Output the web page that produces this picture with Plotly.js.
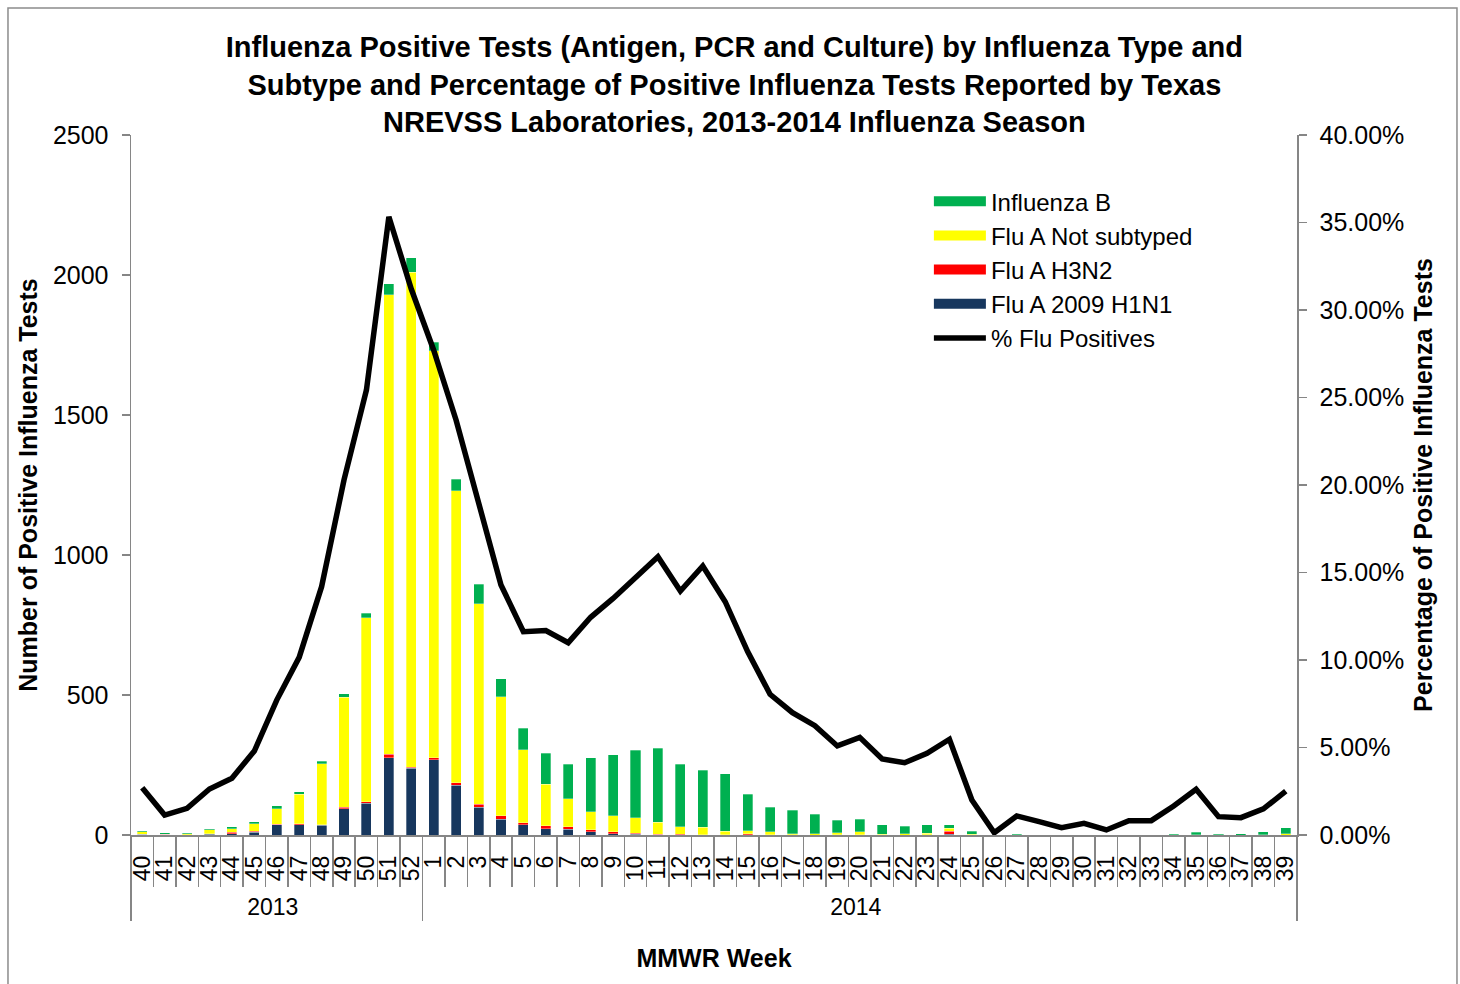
<!DOCTYPE html>
<html>
<head>
<meta charset="utf-8">
<script src="https://cdn.plot.ly/plotly-3.0.1.min.js"></script>
<style>html,body{margin:0;padding:0;background:#fff;}</style>
</head>
<body>
<div id="chart" style="width:1460px;height:984px;"></div>
<script>
// ---- data ----
const weeks2013 = ['40','41','42','43','44','45','46','47','48','49','50','51','52'];
const weeks2014 = ['1','2','3','4','5','6','7','8','9','10','11','12','13','14','15','16','17','18','19','20',
  '21','22','23','24','25','26','27','28','29','30','31','32','33','34','35','36','37','38','39'];
const seasonYears = ['2013','2014'];

const fluA_H1N1 = [2,1,1,3,5,9,36,37,35,94,113,276,239,
  269,178,99,56,37,23,21,12,5,2,1,0,0,0,1,0,0,0,0,0,0,0,0,2,0,0,0,0,0,0,0,0,0,0,0,0,0,0,0];
const fluA_H3N2 = [1,1,0,1,4,5,2,4,2,6,6,13,3,
  7,9,10,12,7,10,9,7,7,4,2,2,1,1,4,1,1,0,1,1,0,0,1,12,0,0,0,0,0,0,0,0,0,0,0,0,0,0,0];
const fluA_NotSubtyped = [8,1,3,14,14,26,55,105,218,392,657,1641,1767,
  1453,1043,717,425,261,148,100,64,56,56,42,28,27,12,10,11,4,4,7,10,3,4,6,11,2,0,0,0,0,0,0,0,0,0,1,0,0,1,4];
const influenzaB = [4,5,4,4,6,7,12,8,8,12,16,38,52,
  30,41,69,65,76,111,122,193,218,240,265,222,203,205,131,88,83,70,44,46,33,28,29,11,11,0,2,1,0,1,0,0,0,3,9,2,4,11,22];
const pctFluPositive = [2.70,1.14,1.52,2.63,3.24,4.80,7.71,10.15,14.19,20.29,25.43,35.33,31.20,
  27.70,23.70,18.95,14.29,11.62,11.68,10.99,12.44,13.52,14.76,15.90,13.94,15.37,13.33,10.48,8.04,6.99,6.25,
  5.09,5.58,4.34,4.13,4.67,5.47,2.00,0.13,1.09,0.76,0.42,0.67,0.29,0.82,0.82,1.66,2.61,1.05,0.99,1.49,2.51];

// ---- build axes arrays ----
const weekLabels = weeks2013.concat(weeks2014);
const yearLabels = weeks2013.map(() => seasonYears[0]).concat(weeks2014.map(() => seasonYears[1]));
const xMulti = [yearLabels, weekLabels];

const C = {
  B: '#00B050', notsub: '#FFFF00', h3: '#FF0000', h1: '#17375E', line: '#000000', axis: '#868686'
};
const FONT = '"Liberation Sans", Arial, sans-serif';

function barTrace(name, vals, color) {
  return {type: 'bar', name: name, x: xMulti, y: vals, xaxis: 'x', yaxis: 'y',
    marker: {color: color, line: {color: 'rgba(255,255,255,0.5)', width: 0.6}},
    showlegend: false, hoverinfo: 'y+name'};
}
function legendTrace(name, color, width) {
  return {type: 'scatter', mode: 'lines', name: name, x: [null], y: [null], xaxis: 'x2', yaxis: 'y2',
    line: {color: color, width: width}, showlegend: true, hoverinfo: 'skip'};
}

const traces = [
  barTrace('Flu A 2009 H1N1', fluA_H1N1, C.h1),
  barTrace('Flu A H3N2', fluA_H3N2, C.h3),
  barTrace('Flu A Not subtyped', fluA_NotSubtyped, C.notsub),
  barTrace('Influenza B', influenzaB, C.B),
  legendTrace('Influenza B', C.B, 12),
  legendTrace('Flu A Not subtyped', C.notsub, 12),
  legendTrace('Flu A H3N2', C.h3, 12),
  legendTrace('Flu A 2009 H1N1', C.h1, 12),
  {type: 'scatter', mode: 'lines', name: '% Flu Positives', x: xMulti, y: pctFluPositive,
    xaxis: 'x', yaxis: 'y2', line: {color: C.line, width: 5.5}, showlegend: true}
];

const layout = {
  width: 1460, height: 984,
  margin: {l: 131, r: 163, t: 135, b: 149, autoexpand: false},
  paper_bgcolor: '#ffffff', plot_bgcolor: '#ffffff',
  font: {family: FONT, size: 25, color: '#000000'},
  barmode: 'stack', bargap: 0.55,
  title: {
    text: 'Influenza Positive Tests (Antigen, PCR and Culture) by Influenza Type and<br>Subtype and Percentage of Positive Influenza Tests Reported by Texas<br>NREVSS Laboratories, 2013-2014 Influenza Season',
    font: {family: FONT, size: 29, weight: 'bold', color: '#000000'},
    xref: 'container', x: 0.503, xanchor: 'center',
    yref: 'container', y: 0.942, yanchor: 'top'
  },
  xaxis: {
    type: 'multicategory', range: [-0.5, 51.5],
    tickmode: 'linear', tick0: 0, dtick: 1,
    showline: true, linecolor: C.axis, linewidth: 1.5,
    ticks: 'outside', ticklen: 50, tickcolor: C.axis, tickwidth: 1.5,
    tickangle: -90, tickfont: {size: 23},
    ticklabelstandoff: 10,
    showdividers: true, dividercolor: C.axis, dividerwidth: 1.5,
    showgrid: false, zeroline: false, automargin: false,
    title: {text: 'MMWR Week', font: {size: 25, weight: 'bold'}, standoff: 30}
  },
  xaxis2: {
    overlaying: 'x', anchor: 'y', visible: false, showgrid: false, zeroline: false
  },
  yaxis: {
    range: [0, 2500], dtick: 500, tick0: 0,
    ticks: 'outside', ticklen: 8, tickcolor: C.axis, tickwidth: 1.5,
    showline: true, linecolor: C.axis, linewidth: 1.5, ticklabelstandoff: 8,
    showgrid: false, zeroline: false, tickfont: {size: 25}, automargin: false,
    title: {text: 'Number of Positive Influenza Tests', font: {size: 25, weight: 'bold'}, standoff: 8}
  },
  yaxis2: {
    overlaying: 'y', side: 'right', range: [0, 40], dtick: 5, tick0: 0,
    tickformat: '.2f', ticksuffix: '%',
    ticks: 'outside', ticklen: 8, tickcolor: C.axis, tickwidth: 1.5, ticklabelstandoff: 8,
    showline: true, linecolor: C.axis, linewidth: 1.5,
    showgrid: false, zeroline: false, tickfont: {size: 25}, automargin: false,
    title: {text: 'Percentage of Positive Influenza Tests', font: {size: 25, weight: 'bold'}, standoff: 11}
  },
  legend: {
    x: 0.6843, y: 0.937, xanchor: 'left', yanchor: 'top',
    traceorder: 'normal', bgcolor: 'rgba(0,0,0,0)', borderwidth: 0,
    font: {size: 24}, itemwidth: 52, tracegroupgap: 0
  },
  shapes: [{
    type: 'rect', xref: 'paper', yref: 'paper', layer: 'below',
    x0: -0.1055, x1: 1.1372, y0: -0.235, y1: 1.1814,
    line: {color: '#8c8c8c', width: 1.5}, fillcolor: 'rgba(0,0,0,0)'
  }]
};

Plotly.newPlot('chart', traces, layout, {displayModeBar: false, staticPlot: true});
</script>
</body>
</html>
